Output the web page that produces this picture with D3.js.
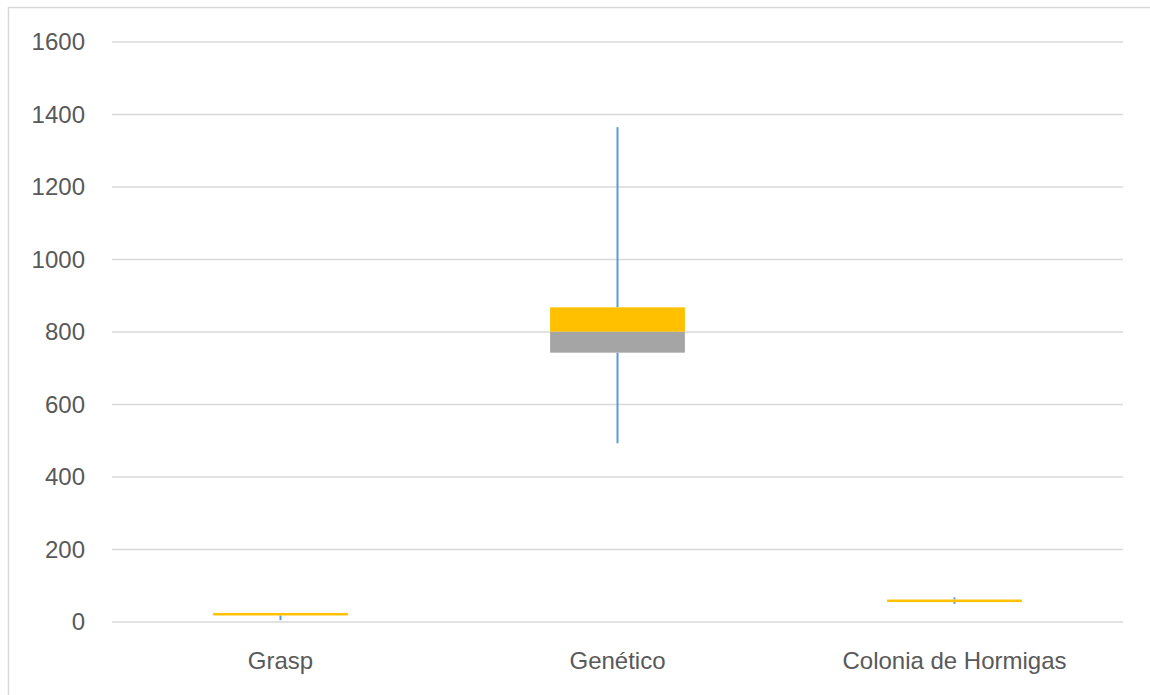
<!DOCTYPE html>
<html>
<head>
<meta charset="utf-8">
<script src="https://cdn.jsdelivr.net/npm/d3@7"></script>
<style>
  body { margin: 0; background: #fff; }
  text { font-family: "Liberation Sans", Arial, sans-serif; }
</style>
</head>
<body>
<script>
const width = 1150;
const height = 695;

// box plot values
const categories = ["Grasp", "Genético", "Colonia de Hormigas"];
const minVals = [5, 493, 50];
const q1Vals = [18, 743, 55];
const medianVals = [18, 801, 55];
const q3Vals = [25, 868, 62];
const maxVals = [25, 1365, 68];
const yTicks = [0, 200, 400, 600, 800, 1000, 1200, 1400, 1600];

const data = categories.map((c, i) => ({
  name: c, min: minVals[i], q1: q1Vals[i], med: medianVals[i], q3: q3Vals[i], max: maxVals[i]
}));

const plot = {left: 112, right: 1123, top: 42, bottom: 622};

const svg = d3.select('body')
  .append('svg')
  .attr('width', width)
  .attr('height', height);

// chart area border
svg.append('rect')
  .attr('x', 8.5)
  .attr('y', 7.5)
  .attr('width', 1300)
  .attr('height', 900)
  .attr('fill', '#fff')
  .attr('stroke', '#d9d9d9')
  .attr('stroke-width', 1.5);

const x = d3.scaleBand()
  .domain(categories)
  .range([plot.left, plot.right])
  .padding(0);

const y = d3.scaleLinear()
  .domain([0, 1600])
  .range([plot.bottom, plot.top]);

// gridlines
svg.append('g')
  .selectAll('line')
  .data(yTicks)
  .enter()
  .append('line')
  .attr('x1', plot.left)
  .attr('x2', plot.right)
  .attr('y1', d => y(d))
  .attr('y2', d => y(d))
  .attr('stroke', '#d9d9d9')
  .attr('stroke-width', 1.5);

// y axis labels
const yAxis = svg.append('g')
  .attr('transform', `translate(${plot.left}, 0)`)
  .call(d3.axisLeft(y).tickValues(yTicks).tickFormat(d3.format('d')).tickSize(0).tickPadding(27));
yAxis.select('.domain').remove();
yAxis.selectAll('text')
  .attr('fill', '#595959')
  .style('font-size', '24px');

// x axis labels
const xAxis = svg.append('g')
  .attr('transform', `translate(0, ${plot.bottom})`)
  .call(d3.axisBottom(x).tickSize(0).tickPadding(30));
xAxis.select('.domain').remove();
xAxis.selectAll('text')
  .attr('fill', '#595959')
  .style('font-size', '24px');

const boxW = x.bandwidth() * 0.4;
const cx = d => x(d.name) + x.bandwidth() / 2;

// whiskers
const gW = svg.append('g');
gW.selectAll('line.upper')
  .data(data)
  .enter()
  .append('line')
  .attr('class', 'upper')
  .attr('x1', cx).attr('x2', cx)
  .attr('y1', d => y(d.q3))
  .attr('y2', d => y(d.max))
  .attr('stroke', '#5b9bd5')
  .attr('stroke-width', 2);
gW.selectAll('line.lower')
  .data(data)
  .enter()
  .append('line')
  .attr('class', 'lower')
  .attr('x1', cx).attr('x2', cx)
  .attr('y1', d => y(d.q1))
  .attr('y2', d => y(d.min))
  .attr('stroke', '#5b9bd5')
  .attr('stroke-width', 2);

// lower box (q1 - median)
svg.append('g')
  .selectAll('rect')
  .data(data)
  .enter()
  .append('rect')
  .attr('x', d => cx(d) - boxW / 2)
  .attr('y', d => y(d.med))
  .attr('width', boxW)
  .attr('height', d => y(d.q1) - y(d.med))
  .attr('fill', '#a5a5a5');

// upper box (median - q3)
svg.append('g')
  .selectAll('rect')
  .data(data)
  .enter()
  .append('rect')
  .attr('x', d => cx(d) - boxW / 2)
  .attr('y', d => y(d.q3))
  .attr('width', boxW)
  .attr('height', d => y(d.med) - y(d.q3))
  .attr('fill', '#ffc000');
</script>
</body>
</html>
